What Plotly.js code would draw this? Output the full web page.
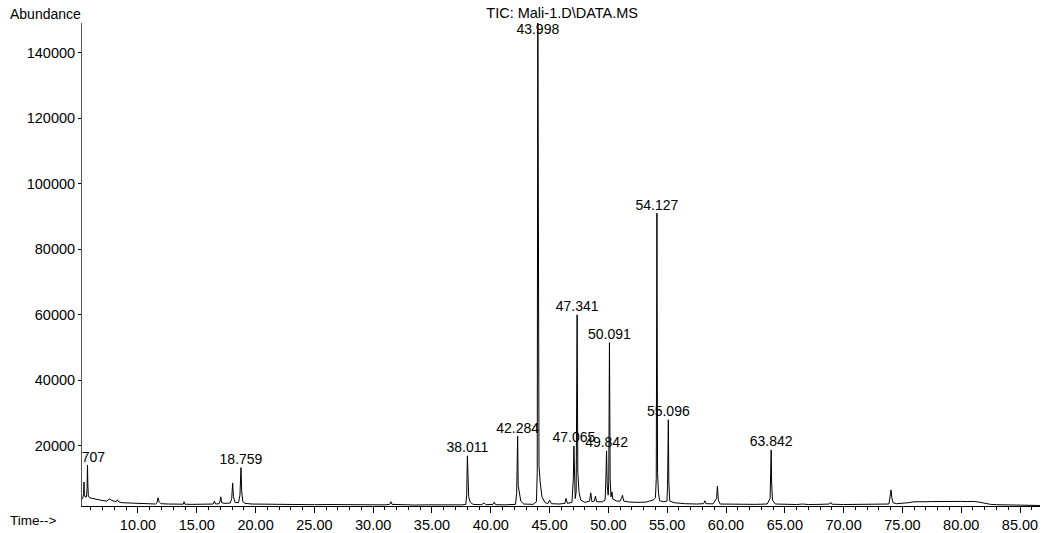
<!DOCTYPE html>
<html>
<head>
<meta charset="utf-8">
<script src="https://cdn.plot.ly/plotly-3.0.1.min.js"></script>
<style>html,body{margin:0;padding:0;background:#fff;}#chart{width:1043px;height:533px;}</style>
</head>
<body>
<div id="chart"></div>
<script>
// Retention time (min) and abundance of the total ion chromatogram
const times = [5.24,5.32,5.38,5.41,5.44,5.52,5.62,5.67,5.707,5.74,5.78,5.9,6.1,6.4,6.8,7.1,7.35,7.5,7.62,7.75,8.0,8.15,8.25,8.38,8.7,9.2,9.7,10.3,10.9,11.5,11.62,11.7,11.8,11.95,12.6,13.3,13.85,13.92,13.99,14.6,15.3,15.9,16.4,16.5,16.6,16.9,16.98,17.04,17.12,17.4,17.85,17.97,18.05,18.12,18.25,18.55,18.67,18.759,18.82,18.92,19.1,19.7,20.4,21.0,21.6,22.4,23.2,24.0,25.0,26.0,27.0,28.0,29.0,30.0,31.0,31.4,31.5,31.6,32.5,33.5,34.5,35.5,36.5,37.5,37.88,37.95,38.011,38.06,38.12,38.25,38.5,39.2,39.45,39.6,40.2,40.3,40.42,41.2,42.1,42.2,42.284,42.33,42.42,42.55,42.8,43.6,43.88,43.95,43.998,44.05,44.1,44.2,44.35,44.6,44.85,45.0,45.15,45.8,46.3,46.4,46.52,46.9,46.98,47.02,47.065,47.11,47.18,47.26,47.341,47.4,47.5,47.65,48.0,48.4,48.5,48.6,48.8,48.9,49.0,49.5,49.72,49.78,49.842,49.9,49.98,50.03,50.091,50.15,50.22,50.3,50.38,50.7,51.0,51.1,51.2,51.3,51.8,52.5,53.2,53.5,53.8,54.0,54.07,54.127,54.18,54.25,54.35,54.7,54.98,55.03,55.096,55.14,55.22,55.6,56.5,57.5,58.1,58.2,58.3,58.9,59.2,59.27,59.35,59.5,60.5,61.5,62.5,63.5,63.75,63.8,63.842,63.88,63.95,64.2,65.0,66.0,66.5,67.0,68.0,68.8,68.9,69.0,70.0,71.0,72.0,73.0,73.85,73.95,74.03,74.1,74.2,74.5,75.0,75.5,76.0,76.5,77.0,77.5,78.0,78.5,79.0,79.5,80.0,80.5,81.0,81.5,82.0,82.5,83.0,84.0,85.0,86.7];
const abundance = [3800,4300,5500,9000,5200,4400,4500,7000,14200,8000,4800,4200,4000,3700,3500,3300,3200,3700,3900,3400,3100,3000,3600,2900,2700,2600,2500,2400,2350,2300,2700,4200,3000,2400,2300,2250,2250,3000,2250,2200,2250,2150,2300,3200,2300,2400,3200,4500,2700,2500,2600,4000,8700,4500,2800,2700,5000,13400,6000,3000,2500,2300,2250,2200,2300,2150,2200,2150,2100,2150,2100,2100,2050,2100,2050,2200,3000,2200,2050,2000,2050,2000,2000,2050,2200,5000,17000,9000,4500,2800,2200,2100,2600,2100,2200,2900,2100,2050,2200,5500,23000,8000,6000,3200,2300,2200,3000,12000,160000,30000,14000,9000,4500,2800,2400,3500,2400,2300,2500,4000,2500,2800,7000,10000,20000,9000,4000,6000,60000,12000,6000,3500,2800,3200,5700,3000,3200,4700,3000,3000,3500,9000,18500,8000,5000,9000,51500,10000,4500,6000,3800,3200,3200,4000,5000,3200,2900,2800,2900,3200,3500,4200,10000,91000,12000,6000,3300,3000,3200,8000,28000,9000,3200,2700,2400,2300,2400,3300,2400,2350,4000,7800,3500,2300,2200,2250,2200,2300,4000,12000,18800,9000,3500,2300,2200,2150,2300,2150,2200,2300,2800,2250,2150,2200,2150,2200,2300,4500,6600,4200,2700,2400,2500,2700,3000,3100,3000,3050,3100,3050,3150,3100,3100,3050,3100,2900,2500,2200,2100,2000,1850,1850];

// Labelled peaks
const peakTimes = [5.707, 18.759, 38.011, 42.284, 43.998, 47.065, 47.341, 49.842, 50.091, 54.127, 55.096, 63.842];
const peakHeights = [14200, 13400, 17000, 23000, 160000, 20000, 60000, 18500, 51500, 91000, 28000, 18800];
const peakLabels = ["5.707", "18.759", "38.011", "42.284", "43.998", "47.065", "47.341", "49.842", "50.091", "54.127", "55.096", "63.842"];

// Axis ticks
const yTickVals = [20000, 40000, 60000, 80000, 100000, 120000, 140000];
const xRange = [5.24, 86.7];
const yRange = [1700, 149000];

const FONT = "Liberation Sans, Arial, sans-serif";

const labelY = peakHeights.map(h => Math.min(h, yRange[1]));
const labelPos = peakHeights.map(h => h > yRange[1] ? "bottom center" : "top center");

const traces = [
  {
    x: times, y: abundance, type: "scatter", mode: "lines",
    line: {color: "#000", width: 1}, hoverinfo: "skip", showlegend: false
  },
  {
    x: peakTimes, y: labelY, type: "scatter", mode: "text",
    text: peakLabels, textposition: labelPos, cliponaxis: true,
    textfont: {family: FONT, size: 14, color: "#000"},
    hoverinfo: "skip", showlegend: false
  }
];

const layout = {
  width: 1043, height: 533,
  margin: {l: 82, r: 3, t: 23, b: 27, pad: 0},
  paper_bgcolor: "#fff", plot_bgcolor: "#fff",
  showlegend: false,
  font: {family: FONT, size: 14, color: "#000"},
  title: {text: "TIC: Mali-1.D\\DATA.MS", font: {family: FONT, size: 14.5, color: "#000"},
          x: 0.539, xanchor: "center", y: 0.976, yanchor: "middle"},
  xaxis: {
    range: xRange, showgrid: false, zeroline: false,
    showline: true, linecolor: "#000", linewidth: 1,
    ticks: "outside", ticklen: 6, tickcolor: "#000", tickwidth: 1,
    tick0: 0, dtick: 5, tickformat: ".2f",
    minor: {dtick: 1, ticks: "outside", ticklen: 3, tickcolor: "#000", showgrid: false},
    tickfont: {family: FONT, size: 14.5, color: "#000"}
  },
  yaxis: {
    range: yRange, showgrid: false, zeroline: false,
    showline: true, linecolor: "#555", linewidth: 1,
    ticks: "outside", ticklen: 3, tickcolor: "#000",
    tickvals: yTickVals, ticktext: yTickVals.map(v => String(v)),
    tickfont: {family: FONT, size: 14.5, color: "#000"}
  },
  annotations: [
    {text: "Abundance", xref: "paper", yref: "paper", x: -0.077, y: 1.019,
     xanchor: "left", yanchor: "middle", showarrow: false,
     font: {family: FONT, size: 14, color: "#000"}},
    {text: "Time-->", xref: "paper", yref: "paper", x: -0.077, y: -0.029,
     xanchor: "left", yanchor: "middle", showarrow: false,
     font: {family: FONT, size: 13.5, color: "#000"}}
  ]
};

Plotly.newPlot("chart", traces, layout, {staticPlot: true, displayModeBar: false});
</script>
</body>
</html>
